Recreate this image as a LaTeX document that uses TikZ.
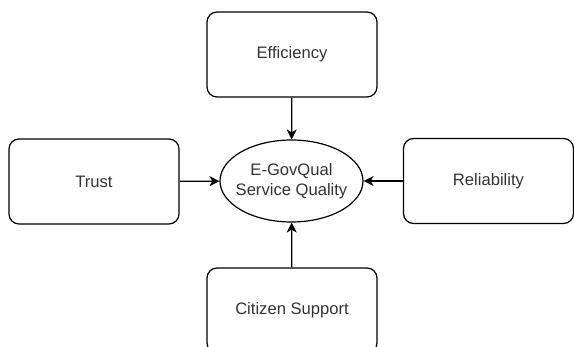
\documentclass[tikz,border=0pt]{standalone}
\usepackage{fontspec}
\setmainfont{Liberation Sans}
\usetikzlibrary{arrows.meta,shapes.geometric}

\begin{document}
\begin{tikzpicture}[x=1pt,y=-1pt,
    factor/.style={draw, line width=1.2pt, rounded corners=10pt, minimum width=170pt, minimum height=85pt, inner sep=0pt, text=black!80, font=\fontsize{16.6}{20}\selectfont},
    quality/.style={draw, ellipse, line width=1.2pt, minimum width=143pt, minimum height=82pt, inner xsep=-8pt, inner ysep=0pt, align=center, text=black!80, font=\fontsize{16.6}{20}\selectfont},
    link/.style={line width=1.2pt, -{Stealth[length=10pt,width=10pt,inset=3pt]}}]
    \useasboundingbox (0,0) rectangle (574,347);

    % Centre
    \node[quality] (sq) at (291.5,181) {E-GovQual\\Service Quality};

    % Factors
    \node[factor] (eff) at (292,54.5) {Efficiency};
    \node[factor] (tru) at (94,181.5) {Trust};
    \node[factor] (rel) at (488.5,181) {Reliability};
    \node[factor] (cit) at (292,310.5) {Citizen Support};

    % Links
    \draw[link] (eff) -- (sq);
    \draw[link] (tru) -- (sq);
    \draw[link] (rel) -- (sq);
    \draw[link] (cit) -- (sq);
\end{tikzpicture}
\end{document}
